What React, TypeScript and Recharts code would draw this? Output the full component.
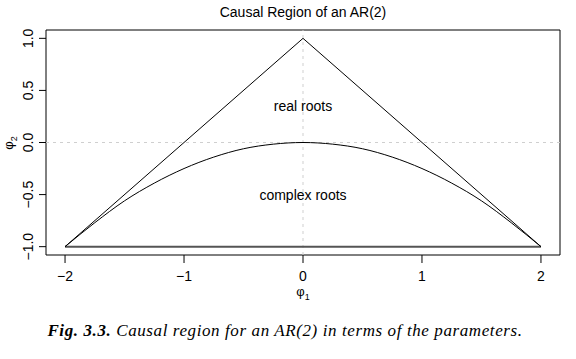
import React from 'react';
import { LineChart, Line, XAxis, YAxis, ReferenceLine, ReferenceArea, ReferenceDot } from 'recharts';

const xTicks = [-2, -1, 0, 1, 2];
const yTicks = [-1, -0.5, 0, 0.5, 1];

const triangle = [
  { x: -2, y: -1 },
  { x: 0, y: 1 },
  { x: 2, y: -1 },
];

const baseLine = [
  { x: -2, y: -1 },
  { x: 2, y: -1 },
];

// boundary between real and complex roots
const parabola = [
  { x: -2, y: -1 },
  { x: -1.75, y: -0.77 },
  { x: -1.5, y: -0.56 },
  { x: -1.25, y: -0.39 },
  { x: -1, y: -0.25 },
  { x: -0.75, y: -0.14 },
  { x: -0.5, y: -0.06 },
  { x: -0.25, y: -0.016 },
  { x: 0, y: 0 },
  { x: 0.25, y: -0.016 },
  { x: 0.5, y: -0.06 },
  { x: 0.75, y: -0.14 },
  { x: 1, y: -0.25 },
  { x: 1.25, y: -0.39 },
  { x: 1.5, y: -0.56 },
  { x: 1.75, y: -0.77 },
  { x: 2, y: -1 },
];

const regionLabels = [
  { x: 0, y: 0.35, text: 'real roots' },
  { x: 0, y: -0.5, text: 'complex roots' },
];

const X_DOMAIN: [number, number] = [-2.16, 2.16];
const Y_DOMAIN: [number, number] = [-1.08, 1.08];

const FONT = '"Liberation Sans", Arial, Helvetica, sans-serif';

const fmt = (v: number, d: number) => {
  const s = v.toFixed(d);
  return s.startsWith('-') ? '\u2212' + s.slice(1) : s;
};

const YTick = (props: any) => {
  const { x, y, payload } = props;
  const cx = x - 6;
  return (
    <text
      x={cx}
      y={y}
      transform={`rotate(-90, ${cx}, ${y})`}
      textAnchor="middle"
      fontSize={14}
      fontFamily={FONT}
      fill="#000"
    >
      {fmt(payload.value, 1)}
    </text>
  );
};

export default function App() {
  return (
    <div style={{ position: 'absolute', left: 0, top: 0, width: 576, height: 359, background: '#fff' }}>
      <div
        style={{
          position: 'absolute',
          left: 46,
          width: 514,
          top: 4,
          textAlign: 'center',
          fontFamily: FONT,
          fontSize: 14,
          color: '#000',
        }}
      >
        Causal Region of an AR(2)
      </div>
      <div style={{ position: 'absolute', left: 0, top: 0 }}>
        <LineChart width={576} height={310} margin={{ top: 30, right: 16, bottom: 15, left: 0 }}>
          <XAxis
            type="number"
            dataKey="x"
            domain={X_DOMAIN}
            ticks={xTicks}
            allowDataOverflow
            axisLine={false}
            tickLine={{ stroke: '#000' }}
            tickSize={8}
            tickMargin={8}
            height={40}
            tickFormatter={(v: number) => fmt(v, 0)}
            tick={{ fill: '#000', fontSize: 14, fontFamily: FONT }}
          />
          <YAxis
            type="number"
            dataKey="y"
            domain={Y_DOMAIN}
            ticks={yTicks}
            allowDataOverflow
            axisLine={false}
            tickLine={{ stroke: '#000' }}
            tickSize={7}
            tickMargin={0}
            width={46}
            tick={<YTick />}
          />
          <ReferenceArea
            x1={X_DOMAIN[0]}
            x2={X_DOMAIN[1]}
            y1={Y_DOMAIN[0]}
            y2={Y_DOMAIN[1]}
            fill="none"
            stroke="#000"
            strokeWidth={1}
            ifOverflow="visible"
          />
          <ReferenceLine x={0} stroke="#cfcfcf" strokeDasharray="3 4" />
          <ReferenceLine y={0} stroke="#cfcfcf" strokeDasharray="3 4" />
          <Line
            data={baseLine}
            dataKey="y"
            type="linear"
            stroke="#555"
            strokeWidth={2}
            dot={false}
            isAnimationActive={false}
          />
          <Line
            data={triangle}
            dataKey="y"
            type="linear"
            stroke="#000"
            strokeWidth={1}
            dot={false}
            isAnimationActive={false}
          />
          <Line
            data={parabola}
            dataKey="y"
            type="monotone"
            stroke="#000"
            strokeWidth={1}
            dot={false}
            isAnimationActive={false}
          />
          {regionLabels.map((l) => (
            <ReferenceDot
              key={l.text}
              x={l.x}
              y={l.y}
              r={0}
              fill="none"
              stroke="none"
              label={{ value: l.text, position: 'center', fill: '#000', fontSize: 14, fontFamily: FONT }}
            />
          ))}
        </LineChart>
      </div>
      <div
        style={{
          position: 'absolute',
          left: 0,
          top: 130,
          width: 20,
          height: 26,
        }}
      >
        <div
          style={{
            position: 'absolute',
            left: 10,
            top: 13,
            transform: 'translate(-50%, -50%) rotate(-90deg)',
            fontFamily: FONT,
            fontSize: 13,
            whiteSpace: 'nowrap',
            color: '#000',
          }}
        >
          φ<sub style={{ fontSize: 9 }}>2</sub>
        </div>
      </div>
      <div
        style={{
          position: 'absolute',
          left: 283,
          width: 40,
          top: 284,
          textAlign: 'center',
          fontFamily: FONT,
          fontSize: 13,
          color: '#000',
        }}
      >
        φ<sub style={{ fontSize: 9 }}>1</sub>
      </div>
      <div
        style={{
          position: 'absolute',
          left: 0,
          width: 570,
          top: 321,
          textAlign: 'center',
          fontFamily: '"Liberation Serif", "Times New Roman", serif',
          fontStyle: 'italic',
          fontSize: 17,
          letterSpacing: '0.6px',
          whiteSpace: 'nowrap',
          color: '#000',
        }}
      >
        <b>Fig. 3.3.</b> Causal region for an AR(2) in terms of the parameters.
      </div>
    </div>
  );
}
